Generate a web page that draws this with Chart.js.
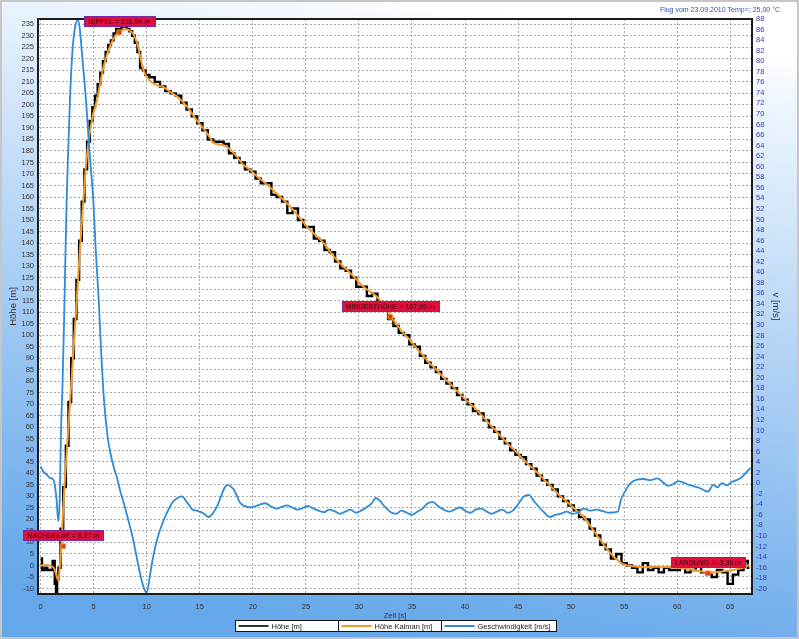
<!DOCTYPE html>
<html><head><meta charset="utf-8">
<style>html,body{margin:0;padding:0;background:#fff;overflow:hidden}#c{display:block}</style>
<script src="https://cdn.jsdelivr.net/npm/chart.js@4.4.1/dist/chart.umd.min.js"></script>
</head><body>
<canvas id="c" width="799" height="639"></canvas>
<script>
const chartTitle = 'Flug vom 23.09.2010 Temp=; 25,00 °C';
const seriesNames = ['Höhe [m]', 'Höhe Kalman [m]', 'Geschwindigkeit [m/s]'];
const axisTitles = {x: 'Zeit [s]', h: 'Höhe [m]', v: 'v [m/s]'};

const xTicks = [0,5,10,15,20,25,30,35,40,45,50,55,60,65];
const hTicks = [-10,-5,0,5,10,15,20,25,30,35,40,45,50,55,60,65,70,75,80,85,90,95,100,105,110,115,120,125,130,135,140,145,150,155,160,165,170,175,180,185,190,195,200,205,210,215,220,225,230,235];
const vTicks = [-20,-18,-16,-14,-12,-10,-8,-6,-4,-2,0,2,4,6,8,10,12,14,16,18,20,22,24,26,28,30,32,34,36,38,40,42,44,46,48,50,52,54,56,58,60,62,64,66,68,70,72,74,76,78,80,82,84,86,88];

// raw altitude (black)
const rawT = [0,0.25,0.5,0.75,1,1.25,1.4,1.5,1.6,1.75,
  2,2.25,2.5,2.75,3,3.25,3.5,3.75,4,4.25,4.5,4.75,5,5.25,5.5,5.75,
  6,6.25,6.5,6.75,7,7.25,7.5,7.75,8,8.25,8.5,8.75,9,9.25,9.5,9.75,10,
  10.5,11,11.5,12,12.5,13,13.5,14,14.5,15,15.5,16,16.5,17,17.5,18,18.5,19,19.5,20,
  20.5,21,21.5,22,22.5,23,23.5,24,24.5,25,25.5,26,26.5,27,27.5,28,28.5,29,29.5,30,
  30.5,31,31.5,32,32.5,33,33.5,34,34.5,35,35.5,36,36.5,37,37.5,38,38.5,39,39.5,40,
  40.5,41,41.5,42,42.5,43,43.5,44,44.5,45,45.5,46,46.5,47,47.5,48,48.5,49,49.5,50,
  50.5,51,51.5,52,52.5,53,53.5,54,54.5,55,55.5,56,56.5,57,57.5,58,58.5,59,59.5,60,
  60.5,61,61.5,62,62.5,63,63.5,64,64.5,65,65.5,66,66.5,66.8];
const rawH = [3,-2,-1,-2,-2,2,-8,-11.5,-6,-1,
  16,34,52,71,90,107,124,141,158,172,184,193,199,204,209,214,
  219,223,226,228,231,233,233,234,234,233,232,230,227,223,216,215,213,
  212,210,208,206,205,204,201,198,195,192,189,185,184,184,183,179,177,175,172,171,
  168,166,166,161,160,158,153,155,150,147,147,142,141,137,136,132,129,128,125,121,
  121,117,118,114,111,107,104,101,100,96,95,91,88,86,84,81,79,77,74,72,
  70,67,66,63,60,58,55,53,50,48,47,44,42,39,37,35,33,30,28,26,
  24,21,20,16,13,9,7,3,5,1,0,-1,-3,1,-2,-1,-3,-1,-2,-2,
  -1,-3,-2,2,-3,-4,-5,-2,-3,-8,-4,-2,2,-1];

// Kalman altitude (orange)
const kalT = [0,0.5,1.0,1.3,1.5,1.66,1.85,2.0,2.15,2.3,
  2.5,2.8,3.1,3.4,3.7,4.0,4.3,4.6,4.9,5.3,
  5.6,5.9,6.2,6.5,6.9,7.3,7.7,8.0,8.4,8.7,
  9.0,9.2,9.4,9.6,9.8,10.0,10.3,10.6,11.0,11.5,
  12.2,12.9,13.8,14.7,15.7,16.3,16.9,17.5,18.0,18.5,
  19.0,19.75,20.5,21.2,22.0,22.9,23.8,24.4,25.1,25.9,
  26.7,27.3,27.9,28.6,29.2,29.8,30.4,31.1,31.7,32.4,
  33.0,33.6,34.2,34.8,35.3,36.0,36.5,37.3,38.0,38.8,
  39.5,40.3,41.0,41.8,42.5,43.3,44.0,44.8,45.5,46.3,
  47.0,47.5,48.0,48.5,49.0,49.5,50.0,50.6,51.2,51.6,
  52.0,52.4,52.8,53.2,53.6,54.0,54.4,54.8,55.3,56.0,
  57.0,58.0,59.0,60.0,61.0,62.0,62.8,63.5,64.2,65.0,
  65.8,66.3,66.8];
const kalH = [0,0.2,-0.3,-1.5,-4.5,-6.5,2,13,27,38,
  52,73,94,115,137,157,175,187,195,202,
  209,216,221,225,229,231.3,232.5,232.8,232.3,231,
  228,225,220.5,216.6,213.8,212.2,210.5,209.4,208.5,207.9,
  205.7,203.5,199.2,193.4,187.6,183.5,182.8,182,180,177.5,
  174.5,171.7,168.5,166,162.5,158.7,154.4,151,147.1,143.5,
  139.9,136.2,132.7,129.5,126.9,124,121.1,118.8,116.7,112.5,
  108,104.5,100.8,98,95,91.5,88.5,85,81.5,78,
  74.5,71,68,64,60.5,56.5,53,49.5,46,42.5,
  39.5,37,34.8,32.3,30,28,26,23.5,21,18.5,
  16,13.3,10.9,8.2,6,3.8,2.2,0.8,0,-0.5,
  -0.8,-0.6,-0.7,-1.0,-1.5,-2.4,-2.9,-3.0,-2.6,-2.2,
  -1.5,-0.8,0.2];

// velocity (blue, right axis)
const velT = [0,0.25,0.5,0.88,1.19,1.35,1.5,1.66,1.8,1.92,
  2.05,2.2,2.45,2.6,2.76,3.0,3.25,3.5,3.7,3.87,
  4.05,4.27,4.6,4.96,5.2,5.47,5.7,5.97,6.3,6.6,
  6.9,7.2,7.5,7.8,8.2,8.7,9.1,9.5,9.8,10.0,
  10.3,10.6,11.0,11.5,12.0,12.4,12.9,13.3,13.8,14.3,
  14.7,15.0,15.4,15.8,16.2,16.6,17.0,17.3,17.6,17.9,
  18.2,18.5,18.8,19.2,19.7,20.2,20.7,21.2,21.7,22.2,
  22.7,23.2,23.7,24.2,24.7,25.2,25.7,26.2,26.7,27.2,
  27.7,28.2,28.7,29.2,29.7,30.2,30.7,31.2,31.6,32.0,
  32.5,33.0,33.5,34.0,34.5,35.0,35.5,36.0,36.5,37.0,
  37.5,38.0,38.5,39.0,39.5,40.0,40.5,41.0,41.5,42.0,
  42.5,43.0,43.5,44.0,44.5,45.0,45.5,46.0,46.5,47.0,
  47.5,48.0,48.5,49.0,49.6,50.1,50.6,51.2,51.8,52.4,
  53.0,53.6,54.4,54.7,55.1,55.6,56.2,56.8,57.5,58.1,
  58.6,59.1,59.6,60.1,60.6,61.1,61.6,62.1,62.6,62.9,
  63.4,63.8,64.2,64.7,65.1,65.6,66.0,66.4,66.9];
const velV = [3.2,2.2,1.8,1.0,0.7,-0.6,-3.1,-7.2,-3,10,
  18,30,53.7,63,72.7,82,86.5,87.8,86,82,
  78,72.7,63,53.7,44,34.8,25,15.8,9,5.5,
  3,1,-1.5,-3.5,-6.5,-10.5,-14.5,-18.3,-20.2,-20.8,
  -17.5,-14,-10.5,-7.5,-5.2,-3.7,-2.8,-2.5,-3.6,-5,
  -5.2,-5.4,-5.8,-6.4,-5.8,-4.5,-2.5,-1,-0.3,-0.6,
  -1.2,-2.4,-3.7,-4.3,-4.6,-4.4,-4.0,-3.8,-4.4,-4.8,
  -4.5,-4.2,-4.6,-5.0,-4.7,-4.3,-4.8,-5.2,-5.5,-5.0,
  -5.3,-5.8,-5.4,-5.0,-5.6,-5.2,-4.6,-3.8,-2.8,-3.4,
  -4.6,-5.5,-5.8,-5.2,-5.6,-6.0,-5.4,-4.8,-3.8,-3.6,
  -4.4,-5.0,-5.4,-5.0,-4.6,-5.2,-5.6,-5.0,-4.8,-5.3,
  -5.8,-5.4,-5.0,-5.6,-5.2,-4.0,-2.6,-2.2,-3.4,-4.6,
  -5.6,-6.4,-6.0,-5.8,-5.4,-5.8,-5.6,-4.8,-5.2,-5.0,
  -5.3,-5.6,-5.4,-3.1,-1.5,0,0.7,0.8,0.6,0.9,
  0.3,-0.5,-0.2,0.4,0.1,-0.3,-0.6,-0.9,-1.4,-1.6,
  -0.3,-0.8,0,-0.4,0.2,0.6,1.0,1.8,2.9];

// annotated events
const annLabels = ['GIPFEL = 231,54 m', 'NACHDELAY = 8,37 m', 'MINDESTHÖHE = 107,99 m', 'LANDUNG = -3,39 m'];
const annT = [7.4, 2.13, 32.95, 62.9];
const annH = [231.54, 8.37, 107.99, -3.39];

const FONT = "'Liberation Sans', Arial, sans-serif";
const pts = (xs, ys) => xs.map((x, i) => ({x: x, y: ys[i]}));

const decor = {
  id: 'decor',
  beforeDraw(chart) {
    const {ctx, width, height, chartArea: a} = chart;
    ctx.save();
    const g = ctx.createLinearGradient(430, 0, 330, height);
    g.addColorStop(0, '#ffffff');
    g.addColorStop(0.05, '#f2f8fe');
    g.addColorStop(0.45, '#b4d4f5');
    g.addColorStop(0.9, '#70aeec');
    g.addColorStop(1, '#64a7ea');
    ctx.fillStyle = g;
    ctx.fillRect(0, 0, width, height);
    ctx.fillStyle = '#ffffff';
    ctx.fillRect(a.left, a.top, a.right - a.left, a.bottom - a.top);
    ctx.restore();
  },
  afterDraw(chart) {
    const {ctx, width, height, chartArea: a, scales} = chart;
    ctx.save();
    // plot frame
    ctx.strokeStyle = '#1c1c1c'; ctx.lineWidth = 2;
    ctx.strokeRect(a.left, a.top, a.right - a.left, a.bottom - a.top);
    // outer border
    ctx.strokeStyle = '#c6c6c6'; ctx.lineWidth = 2;
    ctx.strokeRect(1, 1, width - 2, height - 2);
    // title
    ctx.fillStyle = '#2f50b4'; ctx.font = '7px ' + FONT;
    ctx.textAlign = 'right'; ctx.textBaseline = 'middle';
    ctx.fillText(chartTitle, 780, 10.5);
    // annotation labels
    ctx.font = '7px ' + FONT;
    annLabels.forEach((lab, i) => {
      const px = scales.x.getPixelForValue(annT[i]);
      const py = scales.yH.getPixelForValue(annH[i]);
      const w = Math.ceil(ctx.measureText(lab).width) + 8;
      const h = 10;
      const bx = Math.round(px - w / 2) + 0.5, by = Math.round(py - 6 - h) + 0.5;
      ctx.fillStyle = '#e0103c'; ctx.fillRect(bx, by, w, h);
      ctx.strokeStyle = '#7a2aa0'; ctx.lineWidth = 1; ctx.strokeRect(bx, by, w, h);
      ctx.fillStyle = '#3b0010'; ctx.textAlign = 'center'; ctx.textBaseline = 'middle';
      ctx.fillText(lab, px, by + h / 2 + 0.5);
    });
    // legend
    const lg = chart.data.datasets.slice(0, 3);
    ctx.font = '7.5px ' + FONT;
    const ws = lg.map(d => Math.max(103, Math.ceil(39 + ctx.measureText(d.label).width + 3)));
    const total = ws.reduce((s, v) => s + v, 0);
    let x0 = Math.round((a.left + a.right) / 2 - total / 2) + 0.5;
    const top = 620.5, h = 11;
    lg.forEach((d, i) => {
      ctx.fillStyle = '#ffffff'; ctx.fillRect(x0, top, ws[i], h);
      ctx.strokeStyle = '#111111'; ctx.lineWidth = 1; ctx.strokeRect(x0, top, ws[i], h);
      ctx.strokeStyle = i === 0 ? '#333333' : d.borderColor; ctx.lineWidth = 2;
      ctx.beginPath(); ctx.moveTo(x0 + 3, top + h / 2); ctx.lineTo(x0 + 33, top + h / 2); ctx.stroke();
      ctx.fillStyle = '#222222'; ctx.textAlign = 'left'; ctx.textBaseline = 'middle';
      ctx.fillText(d.label, x0 + 36, top + h / 2 + 0.5);
      x0 += ws[i];
    });
    ctx.restore();
  }
};

const tickFont = {family: FONT, size: 7.5};

new Chart(document.getElementById('c'), {
  type: 'line',
  data: {
    datasets: [
      {label: seriesNames[0], data: pts(rawT, rawH), borderColor: '#000000', borderWidth: 2.4,
       stepped: 'middle', pointRadius: 0, yAxisID: 'yH', order: 3},
      {label: seriesNames[1], data: pts(kalT, kalH), borderColor: '#f39a2b', borderWidth: 2,
       cubicInterpolationMode: 'monotone', pointRadius: 0, yAxisID: 'yH', order: 2},
      {label: seriesNames[2], data: pts(velT, velV), borderColor: '#2e8bd6', borderWidth: 1.8,
       cubicInterpolationMode: 'monotone', pointRadius: 0, yAxisID: 'yV', order: 1},
      {label: 'Ereignisse', type: 'scatter', data: pts(annT, annH), pointStyle: 'rect', pointRadius: 3.2,
       backgroundColor: '#e8321e', borderColor: '#f5901e', borderWidth: 1, yAxisID: 'yH', order: 0}
    ]
  },
  options: {
    responsive: false, animation: false, devicePixelRatio: 1,
    layout: {padding: {top: 19, left: 0, right: 0, bottom: 0}},
    plugins: {legend: {display: false}, tooltip: {enabled: false}},
    scales: {
      x: {
        type: 'linear', position: 'bottom', min: -0.25, max: 67.05,
        afterBuildTicks: s => { s.ticks = xTicks.map(v => ({value: v})); },
        afterFit: s => { s.height = 45; },
        ticks: {autoSkip: false, maxRotation: 0, padding: 8, color: '#333333', font: tickFont},
        grid: {color: '#a8a8a8', lineWidth: 1, drawTicks: false},
        border: {display: false, dash: [2, 2]},
        title: {display: true, text: axisTitles.x, color: '#333333', font: {family: FONT, size: 7.5}, padding: {top: 0, bottom: 19}}
      },
      yH: {
        type: 'linear', position: 'left', min: -12.4, max: 237.3,
        afterBuildTicks: s => { s.ticks = hTicks.map(v => ({value: v})); },
        afterFit: s => { s.width = 38; },
        ticks: {autoSkip: false, padding: 4, color: '#333333', font: tickFont},
        grid: {color: '#a8a8a8', lineWidth: 1, drawTicks: false},
        border: {display: false, dash: [2, 2]},
        title: {display: true, text: axisTitles.h, color: '#333333', font: {family: FONT, size: 9.5}, padding: {top: 8, bottom: 0}}
      },
      yV: {
        type: 'linear', position: 'right', min: -21, max: 88,
        afterBuildTicks: s => { s.ticks = vTicks.map(v => ({value: v})); },
        afterFit: s => { s.width = 47; },
        ticks: {autoSkip: false, padding: 4, color: '#3636b4', font: tickFont},
        grid: {display: false, drawTicks: false},
        border: {display: false},
        title: {display: true, text: axisTitles.v, color: '#333333', font: {family: FONT, size: 9.5}, padding: {top: 18, bottom: 0}}
      }
    }
  },
  plugins: [decor]
});
</script>
</body></html>
